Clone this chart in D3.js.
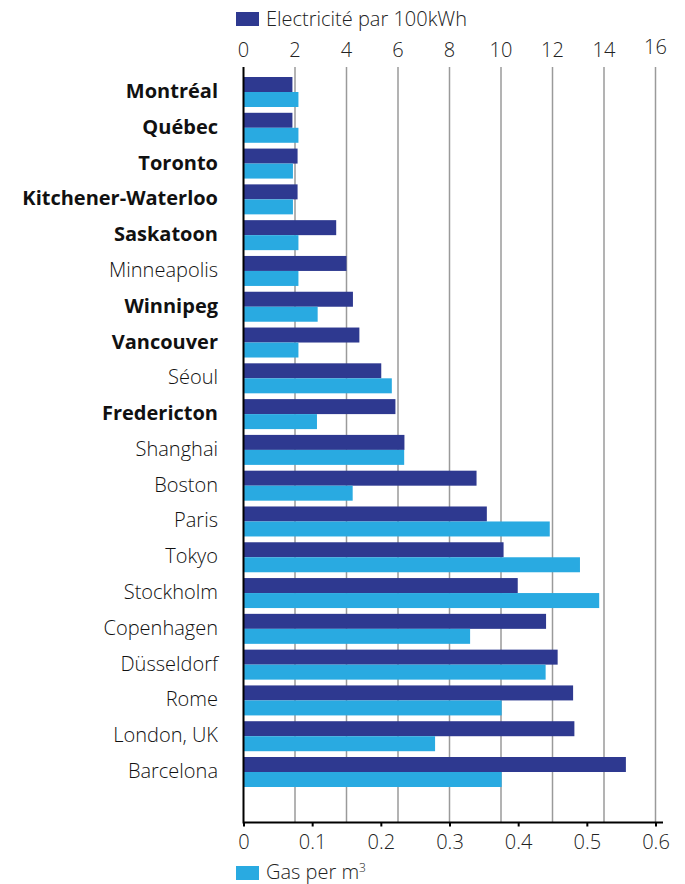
<!DOCTYPE html>
<html>
<head>
<meta charset="utf-8">
<script src="https://cdn.jsdelivr.net/npm/d3@7"></script>
<style>
  body { margin: 0; background: #fff; }
  svg { display: block; font-family: "Open Sans", "Noto Sans", sans-serif; }
</style>
</head>
<body>
<svg id="chart"></svg>
<script>
// villes (les canadiennes en gras)
const cities = ["Montréal", "Québec", "Toronto", "Kitchener-Waterloo", "Saskatoon", "Minneapolis",
  "Winnipeg", "Vancouver", "Séoul", "Fredericton", "Shanghai", "Boston", "Paris", "Tokyo",
  "Stockholm", "Copenhagen", "Düsseldorf", "Rome", "London, UK", "Barcelona"];
const canadian = ["Montréal", "Québec", "Toronto", "Kitchener-Waterloo", "Saskatoon",
  "Winnipeg", "Vancouver", "Fredericton"];
// électricité par 100kWh
const electricity = [1.9, 1.9, 2.1, 2.1, 3.6, 4.0, 4.25, 4.5, 5.35, 5.9, 6.25, 9.05, 9.45,
  10.1, 10.65, 11.75, 12.2, 12.8, 12.85, 14.85];
// gaz par m3
const gas = [0.08, 0.08, 0.072, 0.072, 0.08, 0.08, 0.108, 0.08, 0.216, 0.107, 0.234, 0.159,
  0.446, 0.49, 0.518, 0.33, 0.44, 0.376, 0.279, 0.376];
const elecTicks = [0, 2, 4, 6, 8, 10, 12, 14, 16];
const gasTicks = [0, 0.1, 0.2, 0.3, 0.4, 0.5, 0.6];

const width = 685, height = 884;
const dark = "#2e3990", light = "#29aae1";
const fontSize = 20;

const svg = d3.select("#chart")
  .attr("width", width)
  .attr("height", height)
  .attr("viewBox", [0, 0, width, height]);

const x0 = 243.5, x1 = 655.5;
const xElec = d3.scaleLinear([0, 16], [x0, x1]);
const xGas = d3.scaleLinear([0, 0.6], [x0, x1]);

const y = d3.scaleBand(cities, [77, 787]).paddingInner(0.162).paddingOuter(0);
const top0 = 67, bottom = 822.5;

// grille verticale
svg.append("g")
  .selectAll("line")
  .data(elecTicks.slice(1))
  .join("line")
  .attr("x1", d => xElec(d)).attr("x2", d => xElec(d))
  .attr("y1", top0).attr("y2", bottom)
  .attr("stroke", "#9a9a9a")
  .attr("stroke-width", 1.5);

// barres
const rows = svg.append("g")
  .selectAll("g")
  .data(cities.map((c, i) => ({city: c, e: electricity[i], g: gas[i]})))
  .join("g")
  .attr("transform", d => `translate(0,${y(d.city)})`);

rows.append("rect")
  .attr("x", x0).attr("y", 0)
  .attr("width", d => xElec(d.e) - x0)
  .attr("height", y.bandwidth() / 2)
  .attr("fill", dark);

rows.append("rect")
  .attr("x", x0).attr("y", y.bandwidth() / 2)
  .attr("width", d => xGas(d.g) - x0)
  .attr("height", y.bandwidth() / 2)
  .attr("fill", light);

rows.append("text")
  .attr("x", 218)
  .attr("y", y.bandwidth() / 2 - 1)
  .attr("dy", "0.35em")
  .attr("text-anchor", "end")
  .attr("font-size", fontSize)
  .attr("font-weight", d => canadian.includes(d.city) ? 700 : 300)
  .attr("fill", "#111")
  .text(d => d.city);

// axe vertical
svg.append("line")
  .attr("x1", x0).attr("x2", x0)
  .attr("y1", top0).attr("y2", bottom + 1)
  .attr("stroke", "#000").attr("stroke-width", 2);

// axe du haut (électricité)
svg.append("g")
  .selectAll("text")
  .data(elecTicks)
  .join("text")
  .attr("x", d => xElec(d))
  .attr("y", d => d === 16 ? 54 : 57)
  .attr("text-anchor", "middle")
  .attr("font-size", fontSize)
  .attr("font-weight", 300)
  .attr("fill", "#222")
  .text(d => d);

// axe du bas (gaz)
const axisB = svg.append("g")
  .attr("transform", `translate(0,${bottom})`)
  .call(d3.axisBottom(xGas).tickValues(gasTicks).tickSize(4).tickPadding(8)
    .tickFormat(d => d === 0 ? "0" : d3.format(".1f")(d)));
axisB.select(".domain")
  .attr("d", `M${x0},0H663`)
  .attr("stroke", "#000").attr("stroke-width", 2);
axisB.selectAll(".tick line").attr("stroke", "#000").attr("stroke-width", 2);
axisB.selectAll(".tick text")
  .attr("font-size", fontSize)
  .attr("font-weight", 300)
  .attr("font-family", "'Open Sans', 'Noto Sans', sans-serif")
  .attr("fill", "#222");

// légendes
const legTop = svg.append("g").attr("transform", "translate(236,12)");
legTop.append("rect").attr("width", 23).attr("height", 14).attr("fill", dark);
legTop.append("text").attr("x", 30).attr("y", 7).attr("dy", "0.35em")
  .attr("font-size", fontSize).attr("font-weight", 300).attr("fill", "#222")
  .text("Electricité par 100kWh");

const legBot = svg.append("g").attr("transform", "translate(236,866)");
legBot.append("rect").attr("width", 23).attr("height", 14).attr("fill", light);
const tb = legBot.append("text").attr("x", 30).attr("y", 13)
  .attr("font-size", fontSize).attr("font-weight", 300).attr("fill", "#222");
tb.append("tspan").text("Gas per m");
tb.append("tspan").attr("font-size", 12).attr("dy", "-0.6em").text("3");
</script>
</body>
</html>
